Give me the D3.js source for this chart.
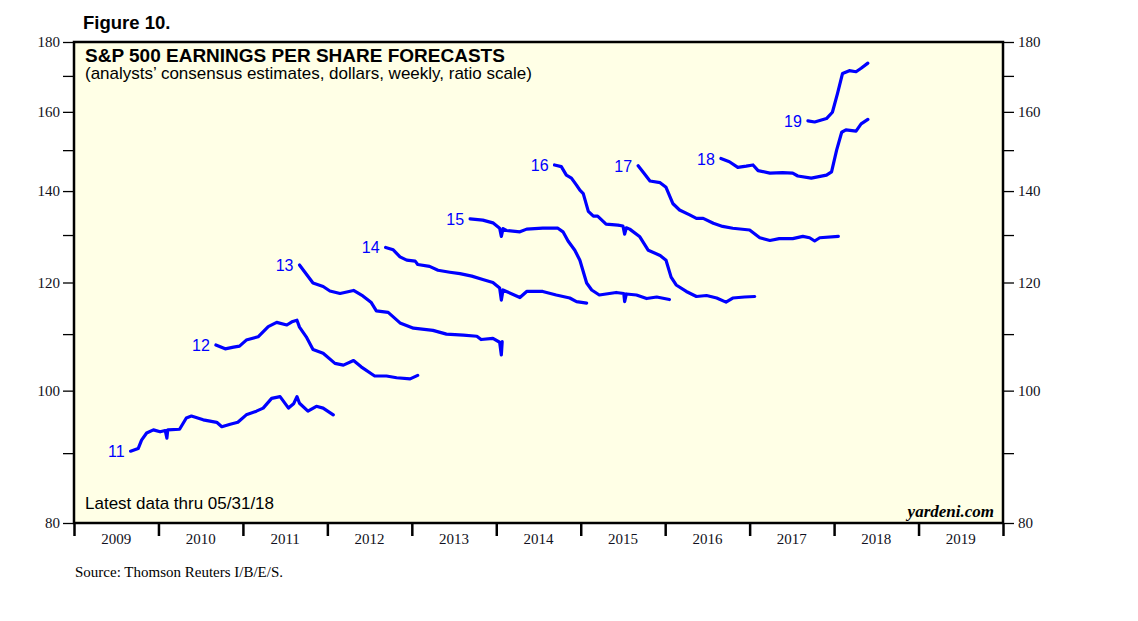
<!DOCTYPE html>
<html>
<head>
<meta charset="utf-8">
<script src="https://cdn.jsdelivr.net/npm/d3@7"></script>
<style>
  body { margin: 0; background: #fff; }
  svg text { font-family: "Liberation Sans", Arial, sans-serif; }
  .serif text, text.serif { font-family: "Liberation Serif", "Times New Roman", serif; }
</style>
</head>
<body>
<svg id="chart" width="1138" height="621"></svg>
<script>
// forecast years (label shown at start of each line)
var seriesNames = ["11", "12", "13", "14", "15", "16", "17", "18", "19"];

// weekly consensus, sampled: [decimal year, dollars]
var eps11 = [[2009.67,90.3],[2009.76,90.7],[2009.80,92.0],[2009.86,93.1],[2009.94,93.6],[2010.02,93.3],[2010.08,93.5],[2010.10,92.3],[2010.11,93.6],[2010.25,93.7],[2010.33,95.5],[2010.39,95.8],[2010.53,95.2],[2010.69,94.8],[2010.75,94.1],[2010.85,94.5],[2010.94,94.8],[2011.04,96.0],[2011.16,96.6],[2011.24,97.1],[2011.34,98.7],[2011.44,99.0],[2011.54,97.1],[2011.60,97.8],[2011.64,99.0],[2011.67,97.9],[2011.77,96.6],[2011.87,97.4],[2011.95,97.1],[2012.07,96.0]];
var eps12 = [[2010.68,108.0],[2010.79,107.3],[2010.89,107.6],[2010.96,107.8],[2011.04,108.9],[2011.18,109.5],[2011.30,111.4],[2011.40,112.2],[2011.52,111.7],[2011.58,112.3],[2011.64,112.6],[2011.67,111.3],[2011.75,109.5],[2011.83,107.2],[2011.95,106.5],[2012.09,104.7],[2012.19,104.4],[2012.31,105.2],[2012.40,104.1],[2012.56,102.5],[2012.70,102.5],[2012.82,102.2],[2012.98,102.0],[2013.07,102.6]];
var eps13 = [[2011.67,123.6],[2011.73,122.2],[2011.83,119.9],[2011.95,119.2],[2012.03,118.3],[2012.15,117.8],[2012.31,118.4],[2012.42,117.3],[2012.52,116.0],[2012.58,114.4],[2012.72,114.1],[2012.86,112.1],[2013.02,111.1],[2013.25,110.7],[2013.41,110.0],[2013.61,109.8],[2013.77,109.6],[2013.82,109.0],[2013.96,109.2],[2014.04,108.5],[2014.06,106.2],[2014.07,108.6]];
var eps14 = [[2012.69,127.3],[2012.78,126.8],[2012.86,125.3],[2012.94,124.6],[2013.04,124.4],[2013.07,123.7],[2013.21,123.3],[2013.31,122.5],[2013.45,122.1],[2013.57,121.8],[2013.71,121.3],[2013.84,120.6],[2013.96,120.0],[2014.04,118.9],[2014.06,116.5],[2014.08,118.5],[2014.12,118.2],[2014.28,117.0],[2014.36,118.2],[2014.55,118.2],[2014.71,117.5],[2014.87,116.9],[2014.95,116.2],[2015.07,115.9]];
var eps15 = [[2013.69,133.6],[2013.84,133.3],[2013.96,132.7],[2014.04,131.5],[2014.06,129.7],[2014.08,131.4],[2014.12,131.0],[2014.28,130.7],[2014.36,131.3],[2014.55,131.5],[2014.73,131.5],[2014.79,130.7],[2014.85,128.7],[2014.93,126.7],[2014.99,124.6],[2015.07,119.9],[2015.13,118.5],[2015.22,117.5],[2015.30,117.7],[2015.42,118.0],[2015.51,117.8],[2015.52,116.2],[2015.54,117.7],[2015.66,117.5],[2015.78,116.8],[2015.90,117.1],[2016.05,116.6]];
var eps16 = [[2014.69,146.3],[2014.77,145.9],[2014.83,143.8],[2014.89,143.1],[2014.95,141.4],[2014.99,140.2],[2015.03,139.4],[2015.09,135.3],[2015.15,134.2],[2015.20,134.2],[2015.30,132.4],[2015.44,132.2],[2015.50,132.0],[2015.52,130.2],[2015.54,131.6],[2015.58,131.3],[2015.70,129.6],[2015.80,126.7],[2015.94,125.6],[2016.01,124.6],[2016.07,121.1],[2016.13,119.5],[2016.25,118.2],[2016.37,117.2],[2016.49,117.4],[2016.61,116.9],[2016.72,116.1],[2016.80,116.9],[2016.94,117.1],[2017.06,117.2]];
var eps17 = [[2015.68,146.1],[2015.74,144.5],[2015.82,142.4],[2015.94,142.0],[2016.01,140.9],[2016.09,137.1],[2016.17,135.6],[2016.29,134.5],[2016.37,133.7],[2016.45,133.7],[2016.57,132.6],[2016.68,131.9],[2016.80,131.5],[2017.00,131.1],[2017.12,129.4],[2017.24,128.8],[2017.35,129.2],[2017.51,129.2],[2017.63,129.7],[2017.71,129.4],[2017.77,128.7],[2017.83,129.4],[2018.05,129.7]];
var eps18 = [[2016.66,147.9],[2016.76,147.1],[2016.86,145.7],[2016.96,146.0],[2017.04,146.3],[2017.10,144.9],[2017.24,144.3],[2017.39,144.4],[2017.51,144.3],[2017.57,143.6],[2017.73,143.1],[2017.91,143.8],[2017.97,144.6],[2018.03,150.0],[2018.09,154.6],[2018.14,155.2],[2018.26,154.9],[2018.32,156.8],[2018.40,158.0]];
var eps19 = [[2017.69,157.6],[2017.77,157.3],[2017.91,158.2],[2017.98,159.9],[2018.04,165.0],[2018.10,170.7],[2018.18,171.5],[2018.26,171.2],[2018.32,172.2],[2018.40,173.7]];

var years = [2009, 2010, 2011, 2012, 2013, 2014, 2015, 2016, 2017, 2018, 2019];
var yMajor = [80, 100, 120, 140, 160, 180];
var yMinor = [90, 110, 130, 150, 170];

var allSeries = [eps11, eps12, eps13, eps14, eps15, eps16, eps17, eps18, eps19];

var L = 74, R = 1003, T = 42, B = 523;
var svg = d3.select("#chart");

var x = d3.scaleLinear().domain([2009, 2020]).range([L, R]);
var y = d3.scaleLog().domain([80, 180]).range([B, T]);

// plot background
svg.append("rect")
    .attr("x", L).attr("y", T)
    .attr("width", R - L).attr("height", B - T)
    .attr("fill", "#ffffe6");

// left axis
svg.append("g").attr("class", "serif")
    .attr("transform", "translate(" + L + ",0)")
    .call(d3.axisLeft(y).tickValues(yMajor).tickFormat(d3.format("d")).tickSize(11).tickPadding(3));
svg.append("g").attr("transform", "translate(" + L + ",0)")
    .call(d3.axisLeft(y).tickValues(yMinor).tickFormat("").tickSize(11));

// right axis
svg.append("g").attr("class", "serif")
    .attr("transform", "translate(" + R + ",0)")
    .call(d3.axisRight(y).tickValues(yMajor).tickFormat(d3.format("d")).tickSize(11).tickPadding(4));
svg.append("g").attr("transform", "translate(" + R + ",0)")
    .call(d3.axisRight(y).tickValues(yMinor).tickFormat("").tickSize(11));

svg.selectAll(".domain").remove();
svg.selectAll(".tick line").attr("stroke", "#000").attr("stroke-width", 1.3);
svg.selectAll(".tick text").attr("font-size", 15).attr("fill", "#101020");

// bottom year boundaries
var bottomAx = svg.append("g")
    .attr("transform", "translate(0," + B + ")")
    .call(d3.axisBottom(x).tickValues(years.concat([2020])).tickFormat("").tickSize(13));
bottomAx.select(".domain").remove();
bottomAx.selectAll(".tick line").attr("stroke", "#000").attr("stroke-width", 2.5);

svg.append("g").attr("class", "serif")
    .selectAll("text").data(years).enter().append("text")
    .attr("x", function(d) { return x(d + 0.5); })
    .attr("y", 544)
    .attr("text-anchor", "middle")
    .attr("font-size", 15)
    .attr("fill", "#101020")
    .text(function(d) { return d; });

// lines
var line = d3.line()
    .x(function(d) { return x(d[0]); })
    .y(function(d) { return y(d[1]); })
    .curve(d3.curveLinear);

svg.append("g").selectAll("path").data(allSeries).enter().append("path")
    .attr("d", line)
    .attr("fill", "none")
    .attr("stroke", "#0000ff")
    .attr("stroke-width", 3.2)
    .attr("stroke-linejoin", "round")
    .attr("stroke-linecap", "round");

svg.append("g").selectAll("text").data(allSeries).enter().append("text")
    .attr("x", function(d) { return x(d[0][0]) - 6; })
    .attr("y", function(d) { return y(d[0][1]) + 6; })
    .attr("text-anchor", "end")
    .attr("font-size", 16)
    .attr("fill", "#0000ff")
    .text(function(d, i) { return seriesNames[i]; });

// frame
svg.append("rect")
    .attr("x", L).attr("y", T)
    .attr("width", R - L).attr("height", B - T)
    .attr("fill", "none")
    .attr("stroke", "#000")
    .attr("stroke-width", 2.5);

// texts
svg.append("text").attr("x", 83).attr("y", 29)
    .attr("font-size", 18.5).attr("font-weight", "bold").text("Figure 10.");
svg.append("text").attr("x", 85).attr("y", 62)
    .attr("font-size", 19).attr("font-weight", "bold").text("S&P 500 EARNINGS PER SHARE FORECASTS");
svg.append("text").attr("x", 85).attr("y", 79)
    .attr("font-size", 17).text("(analysts\u2019 consensus estimates, dollars, weekly, ratio scale)");
svg.append("text").attr("x", 85).attr("y", 509)
    .attr("font-size", 17).text("Latest data thru 05/31/18");
svg.append("text").attr("class", "serif").attr("x", 994).attr("y", 517)
    .attr("text-anchor", "end")
    .attr("font-size", 17).attr("font-style", "italic").attr("font-weight", "bold")
    .text("yardeni.com");
svg.append("text").attr("class", "serif").attr("x", 75).attr("y", 577)
    .attr("font-size", 15).text("Source: Thomson Reuters I/B/E/S.");
</script>
</body>
</html>
